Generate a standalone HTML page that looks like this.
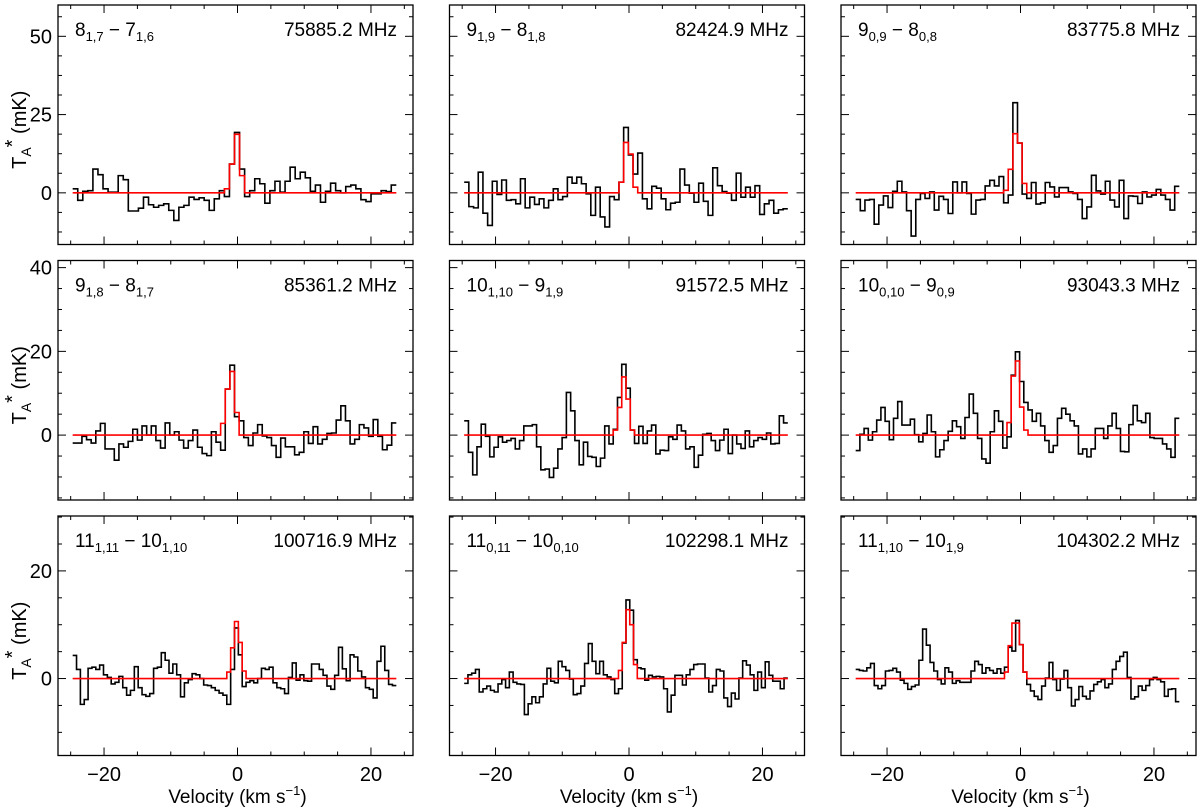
<!DOCTYPE html>
<html><head><meta charset="utf-8"><style>
html,body{margin:0;padding:0;background:#fff;}
svg{display:block;font-family:"Liberation Sans","DejaVu Sans",sans-serif;}
</style></head><body>
<svg id="fig" width="1200" height="810" viewBox="0 0 1200 810" xmlns="http://www.w3.org/2000/svg"></svg>
<script>
const transitions = [
 ["8","1,7","7","1,6"],["9","1,9","8","1,8"],["9","0,9","8","0,8"],
 ["9","1,8","8","1,7"],["10","1,10","9","1,9"],["10","0,10","9","0,9"],
 ["11","1,11","10","1,10"],["11","0,11","10","0,10"],["11","1,10","10","1,9"]];
const freqs = ["75885.2 MHz","82424.9 MHz","83775.8 MHz","85361.2 MHz","91572.5 MHz","93043.3 MHz","100716.9 MHz","102298.1 MHz","104302.2 MHz"];
const spec1 = [1.3,-2.4,0.5,0.7,7.6,5.8,1.3,0.2,0.2,5.5,4.2,-5.8,-5.8,-4.9,-1.4,-3.8,-4.6,-4,-3.5,-5.6,-8.8,-4.6,-4,-1.4,-2.1,-1.6,-2.4,-5.6,-1.9,0.7,-1.2,9.2,19.3,7.6,-1.2,0.7,4.5,2.9,-3.3,0.7,3.7,0.2,3.7,8.2,4.5,6.6,4.8,0.5,2.5,-3,0.5,3.1,0.7,0,2,2.5,1.3,-2.2,-2.8,-0.3,-0.3,0.7,0.4,2.5];
const spec2 = [3.4,-4.4,-4.8,6.6,-6.5,-10.4,3.7,-0.5,4.1,-2.4,-2.2,-3.5,4.5,-4.8,-1.4,-3.7,-1.9,-4.8,-2.4,1.3,-2.2,-1.2,5,3.1,5,2.9,-0.3,-7.2,1.8,-7.7,-10.9,-1.2,-2.2,3.4,20.9,12.1,6,12.7,-1.9,-5.1,2.1,1.5,-1.9,-5.4,-3.3,-3,7.6,2.5,-0.1,-3,3.1,-2.7,-7.2,8,2.3,0.4,-0.1,-2.4,6.3,-1.4,1.8,-1.4,2.3,-6.9,-3.5,-2.4,-6.5,-5.4,-5.1];
const spec3 = [-2.1,-5.7,-2.3,-2.1,-10,-3.9,-1,-4.7,0.5,3.7,0.3,-5.7,-13.8,-2.1,-0.2,-1.8,0.3,-5.5,-1.1,-2.1,-6.6,3.5,0,3.5,-0.2,-6.8,-2.3,-2.1,2.2,4,2.2,5.2,-3.2,-0.7,28.8,15.9,-0.4,-1.8,3.3,-3.6,-3.2,3.3,1.9,-1.3,1.7,1.7,0.3,-0.2,-2.1,-8.2,-4.5,5.6,0.6,-0.4,3.7,-2.3,-4.5,4,-8.2,-1,-1.1,-3.4,0.3,-1.3,-0.7,1.1,-0.7,-2.1,-5.5,2.1];
const spec4 = [-1.9,-1.9,-0.3,-1.1,-1.9,1,2.8,-3.3,-3.3,-6,-2.1,-2.9,-1.5,1.4,-1.2,2.2,0,2.2,-1.3,-3.1,2.9,0,0.8,-1.2,-3.1,-1.3,1.2,-2.9,-4.4,-4.9,0.8,-1.7,-3.6,11,16.7,4.4,3.4,-0.6,-2.5,0.5,2.5,-0.2,-0.6,-2.5,-5.3,-0.7,-2.8,-2.8,-4.7,-4.1,0.8,-2,2,-2.1,-1,0.4,0.5,3.6,7,3.4,-2.1,-1,2.5,1.7,-0.3,3.7,-0.3,-3.5,-2.4,2.9];
const spec5 = [3.4,-4.1,-9.5,-2.8,2.6,-0.3,-5.2,-2.9,-0.4,-1.7,-1.3,-0.8,-3.3,-1.3,2.2,2.2,2.5,-2.8,-8.3,-8.1,-10.1,-7.9,-3.3,-0.6,10.2,5.8,-1.3,-7.1,-1.7,-5.1,-5.3,-7.5,-5.5,2.2,-2.1,1.4,9,16.9,11.2,1.2,-2,2.1,-2,1,2.4,-4.5,-3.6,-3.7,-0.4,-1,2.4,1,-3.3,-2.8,-7.7,-4.8,0.2,0.4,-1.3,-3.7,-1.2,1.4,-4.4,0,-2.1,-3.2,1,-2.8,-1.3,-0.6,-1,0.5,-2.1,-2,4.6,2.9];
const spec6 = [-3.7,0.2,1.6,-1.2,0.8,3.6,6.6,3.3,-1.1,4,8,2.4,2.4,3.8,0.1,-1.6,0.4,4.8,0.8,-5.2,-3.5,-1.3,0.9,3.4,2,-0.8,4.2,9.8,5.2,-0.8,-5.7,-6.7,0.8,5.8,3.3,-3.1,-0.4,14.3,19.9,12.8,7.8,6,3.3,5.2,2.2,-1.3,-4.1,-2.5,4,6.4,5,3.4,2.2,-4.5,-3.3,-5.2,-3.3,1.6,1.6,-0.8,2.2,5.2,1.6,-3.9,-4,2.5,7.1,3.4,3,5.2,-0.6,-0.8,-0.8,-2.1,-3.3,-5.3,4];
const spec7 = [4.3,1.7,-4.8,-3.9,1.9,2.1,1.7,2.5,0.7,0.2,-1,-0.7,0.4,-1.7,-3.1,-2.2,2.2,-1.7,-3,-3.3,-2.8,1.9,2.1,4.8,3.4,1,2.7,0.7,-3.4,-0.8,-0.2,0.9,0.7,0,-1.2,-1.3,-1.7,-2.2,-2.7,-3.1,-4.8,1.7,9.4,4.4,-1.5,-0.7,-0.4,-0.8,0,1.9,1.7,2.1,-0.8,-1.7,-1.9,-2.8,0.2,2.9,-0.3,0.7,-0.4,-0.5,2.7,2.7,1.7,0.6,-1.4,-2,0.6,5.8,1.8,-0.4,4.4,4,1.4,0.3,-1.7,-2,-3.6,3.2,6,1.5,-1.1,-1.3];
const spec8 = [-0.9,0.7,1,1.7,-2.5,-1.9,-1.4,-2.2,-2.5,-1,-0.2,-1.7,1.2,-0.7,-1,-1.1,-6.7,-4.7,-3.4,-4.5,-3.4,-1,1.9,-0.5,-0.8,3.2,2.2,1.5,-0.1,-3,-2.8,-1.4,2.8,6.5,3.2,0.9,3.2,0.7,0.3,-0.2,-2.8,-1.9,6.6,14.6,12.7,3.5,2,1.8,-0.3,0.6,0.3,0.4,0.3,-1.9,-6.2,-3.1,0.6,0.6,-1.2,0.7,1.7,2.6,2.7,2.7,0.1,-2.5,-1.3,1.7,1.4,-3.6,-5.2,-2.7,-3.8,0.1,3.3,2.5,0.7,-2.2,1.2,-1.7,3.1,0.6,-0.5,-0.5,-1.9,0.1];
const spec9 = [1.7,1.5,1.4,2,2.8,-1.3,-1.9,-1.3,1.4,1.5,1.9,1.2,-0.3,-0.9,-2,-1.5,-1.2,3.4,9.2,6.2,3,1.4,-0.2,-1,2,1.2,-0.9,-0.4,-0.7,-0.7,-0.7,1.4,3.2,2.6,1,2,1.5,1,1.8,1,2.1,5.8,5.1,10.8,6.3,1.2,-1.1,-2.3,-3.3,-3.9,-1.4,0.1,3,-0.2,-2.2,-0.1,1.5,-1.7,-5.1,-3.9,-1.5,-3.3,-3.8,-2.3,-1.1,-0.6,-0.2,-1.7,-1,1.7,3.2,4.1,4.9,0.2,-3.8,-3.4,-1.4,-2.2,-1.3,-0.2,0.2,-0.2,-0.6,-3.3,-2,-1.9,-4.3];
const fit1 = [1.3,9.2,18.7,5.5];
const fit2 = [3.4,16.1,12.4,1.8];
const fit3 = [0.8,7.5,18.9,15.9,3];
const fit4 = [2.8,11,15.2,5.4];
const fit5 = [1.2,6.6,13.9,8.6,1.2];
const fit6 = [3,14.1,17.7,6.7,1.2];
const fit7 = [1.2,5.7,10.6,6.7,1.4];
const fit8 = [1.5,6.7,12.8,10,2.6];
const fit9 = [1.2,6.1,10.3,10.3,6.3,1.2];
const fitStart = [30,33,32,32,35,36,40,41,40];
const xTicks = [-20,0,20];
const yTicksRow1 = [0,25,50];
const yTicksRow2 = [0,20,40];
const yTicksRow3 = [0,20];

const specs=[spec1,spec2,spec3,spec4,spec5,spec6,spec7,spec8,spec9];
const fits=[fit1,fit2,fit3,fit4,fit5,fit6,fit7,fit8,fit9];
const rowTicks=[yTicksRow1,yTicksRow2,yTicksRow3];
const rowMinor=[6.25,5,5];
const NS="http://www.w3.org/2000/svg";
const svg=document.getElementById('fig');
const colLeft=[58,449.5,841], W=355;
const rowTop=[5,260.5,516], H=239.5;
const XMIN=-26.9, XMAX=26.3;
const yRanges=[[-16.5,60],[-15.5,41.7],[-14.3,30.2]];
const V0=-24.7, V1=23.8;
function mk(tag,attrs,parent){const e=document.createElementNS(NS,tag);for(const k in attrs)e.setAttribute(k,attrs[k]);(parent||svg).appendChild(e);return e;}
function stepPath(vals,start,dv,xf,yf,padEnds){
  let d='';let v=V0+start*dv;
  if(padEnds){d+='M'+xf(V0)+','+yf(0)+'L'+xf(v)+','+yf(0);}
  vals.forEach((y,i)=>{const xa=xf(v+i*dv),xb=xf(v+(i+1)*dv);d+=(d?'L':'M')+xa+','+yf(y)+'L'+xb+','+yf(y);});
  if(padEnds){d+='L'+xf(v+vals.length*dv)+','+yf(0)+'L'+xf(V1)+','+yf(0);}
  return d;
}
for(let p=0;p<9;p++){
  const r=Math.floor(p/3),c=p%3;
  const L=colLeft[c],T=rowTop[r];
  const [ymin,ymax]=yRanges[r];
  const xf=v=>(L+(v-XMIN)/(XMAX-XMIN)*W).toFixed(2);
  const yf=y=>(T+H-(y-ymin)/(ymax-ymin)*H).toFixed(2);
  const g=mk('g',{});
  
  
  const data=specs[p];
  const dv=(V1-V0)/data.length;
  const sp=mk('path',{d:stepPath(data,0,dv,xf,yf,false),fill:'none',stroke:'#000','stroke-width':1.6},g);
  
  
  const fp=mk('path',{d:stepPath(fits[p],fitStart[p],dv,xf,yf,true),fill:'none',stroke:'#ff0000','stroke-width':1.6},g);
  
  
  const fr=mk('rect',{x:L,y:T,width:W,height:H,fill:'none',stroke:'#000','stroke-width':1.3},g);
  
  
  // x ticks
  for(let v=-25;v<=25;v+=5){
    const major=xTicks.indexOf(v)>=0, len=major?8:4, x=xf(v);
    mk('line',{x1:x,x2:x,y1:T+H,y2:T+H-len,stroke:'#000','stroke-width':1},g);
    mk('line',{x1:x,x2:x,y1:T,y2:T+len,stroke:'#000','stroke-width':1},g);
  }
  // y ticks
  const mn=rowMinor[r];
  for(let k=Math.ceil(ymin/mn);k*mn<=ymax;k++){
    const y=k*mn, major=rowTicks[r].indexOf(y)>=0||(Math.abs(y%(mn*4))<1e-6), len=major?8:4, yy=yf(y);
    mk('line',{x1:L,x2:+L+len,y1:yy,y2:yy,stroke:'#000','stroke-width':1},g);
    mk('line',{x1:L+W,x2:L+W-len,y1:yy,y2:yy,stroke:'#000','stroke-width':1},g);
  }
  if(c===0){
    rowTicks[r].forEach(y=>{const t=mk('text',{x:L-6,y:+yf(y)+7,'text-anchor':'end','font-size':20},g);t.textContent=y;
      });
    const yt=mk('text',{transform:'translate(26,'+(T+H/2+5)+') rotate(-90)','text-anchor':'middle','font-size':20},g);
    
    yt.innerHTML='T<tspan font-size="14" dy="5">A</tspan><tspan dy="-12">*</tspan><tspan dy="7"> (mK)</tspan>';
  }
  if(r===2){
    xTicks.forEach(v=>{const t=mk('text',{x:xf(v),y:781,'text-anchor':'middle','font-size':20},g);t.textContent=(v<0?'\u2212':'')+Math.abs(v);
      });
    const xt=mk('text',{x:xf(0),y:803,'text-anchor':'middle','font-size':19},g);
    
    xt.innerHTML='Velocity (km s<tspan font-size="13" dy="-8">\u22121</tspan><tspan dy="8">)</tspan>';
  }
  const tr=transitions[p];
  const lt=mk('text',{x:L+17,y:T+31,'font-size':19},g);
  
  lt.innerHTML=tr[0]+'<tspan font-size="13" dy="5">'+tr[1]+'</tspan><tspan dy="-5"> \u2212 '+tr[2]+'</tspan><tspan font-size="13" dy="5">'+tr[3]+'</tspan>';
  const ft=mk('text',{x:L+W-16,y:T+31,'text-anchor':'end','font-size':19},g);
  
  ft.textContent=freqs[p];
}
</script>
</body></html>
